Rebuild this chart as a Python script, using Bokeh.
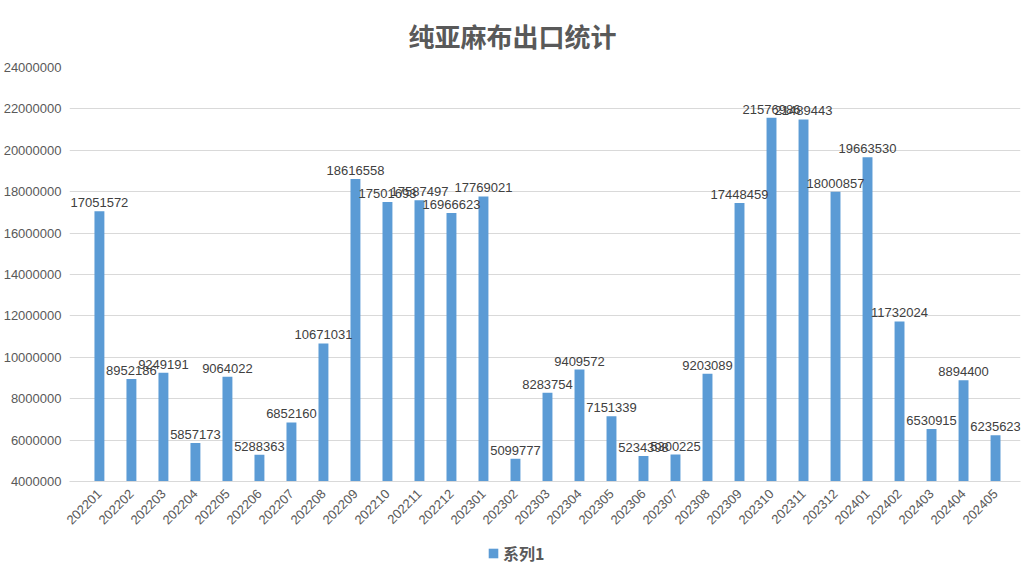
from bokeh.plotting import figure
from bokeh.layouts import column
from bokeh.models import (ColumnDataSource, Range1d, FixedTicker, BasicTickFormatter, Legend, LegendItem,
                          LabelSet, Title)
from bokeh.core.properties import value
from bokeh.embed import file_html
from bokeh.resources import INLINE
import math

months = ["202201","202202","202203","202204","202205","202206","202207","202208","202209","202210",
          "202211","202212","202301","202302","202303","202304","202305","202306","202307","202308",
          "202309","202310","202311","202312","202401","202402","202403","202404","202405"]
values = [17051572, 8952186, 9249191, 5857173, 9064022, 5288363, 6852160, 10671031, 18616558, 17501693,
          17587497, 16966623, 17769021, 5099777, 8283754, 9409572, 7151339, 5234398, 5300225, 9203089,
          17448459, 21576986, 21489443, 18000857, 19663530, 11732024, 6530915, 8894400, 6235623]
y_ticks = [4000000, 6000000, 8000000, 10000000, 12000000, 14000000, 16000000, 18000000, 20000000, 22000000, 24000000]
series_name = "系列1"
title_text = "纯亚麻布出口统计"

idx = list(range(len(months)))
src = ColumnDataSource(dict(i=idx, v=values, lab=[str(v) for v in values]))

p = figure(width=1024, height=540, x_range=Range1d(-0.935, len(months) - 0.22),
           y_range=Range1d(4000000, 24000000), output_backend="svg", toolbar_location=None,
           min_border_left=66, min_border_right=4, min_border_top=67, min_border_bottom=59)
p.title = Title(text=title_text, align="left", offset=339, text_font_size="26px",
                text_font="Noto Sans CJK SC", text_color="#595959", text_font_style="bold",
                vertical_align="middle", standoff=25)

r = p.vbar(x="i", top="v", bottom=4000000, width=0.31, source=src, color="#5b9bd5", line_color=None)

labels = LabelSet(x="i", y="v", text="lab", source=src, text_align="center", text_baseline="bottom",
                  y_offset=4, text_font_size=value("13px"), text_font=value("Liberation Sans"),
                  text_color="#404040")
p.add_layout(labels)

p.yaxis.ticker = FixedTicker(ticks=y_ticks)
p.yaxis.formatter = BasicTickFormatter(use_scientific=False)
p.yaxis.axis_line_color = None
p.yaxis.major_tick_line_color = None
p.yaxis.minor_tick_line_color = None
p.yaxis.major_label_text_font = "Liberation Sans"
p.yaxis.major_label_text_font_size = "13px"
p.yaxis.major_label_text_color = "#595959"
p.yaxis.major_label_standoff = 2

p.xaxis.ticker = FixedTicker(ticks=idx)
p.xaxis.major_label_overrides = {i: m for i, m in zip(idx, months)}
p.xaxis.axis_line_color = "#d9d9d9"
p.xaxis.major_tick_line_color = None
p.xaxis.minor_tick_line_color = None
p.xaxis.major_label_orientation = math.pi / 4
p.xaxis.major_label_text_font = "Liberation Sans"
p.xaxis.major_label_text_font_size = "13px"
p.xaxis.major_label_text_color = "#595959"
p.xaxis.major_label_standoff = 4

p.xgrid.grid_line_color = None
p.ygrid.grid_line_color = "#d9d9d9"
p.outline_line_color = None

# legend strip
p2 = figure(width=1024, height=26, x_range=Range1d(0, 1), y_range=Range1d(0, 1), output_backend="svg",
            toolbar_location=None, x_axis_type=None, y_axis_type=None, min_border=0)
p2.outline_line_color = None
p2.grid.grid_line_color = None
r2 = p2.quad(left=[-50], right=[-49], bottom=[-50], top=[-49], color="#5b9bd5", line_color=None)
legend = Legend(items=[LegendItem(label=series_name, renderers=[r2])], orientation="horizontal",
                location=(418, 1), label_text_font="Noto Sans CJK SC", label_text_font_size="16px",
                label_text_font_style="bold", label_text_color="#595959", border_line_color=None,
                background_fill_alpha=0, glyph_width=12, glyph_height=12, padding=0, margin=0,
                label_standoff=4)
p2.add_layout(legend, "center")

layout = column(p, p2, spacing=0)
open("out.html", "w").write(file_html(layout, INLINE))
